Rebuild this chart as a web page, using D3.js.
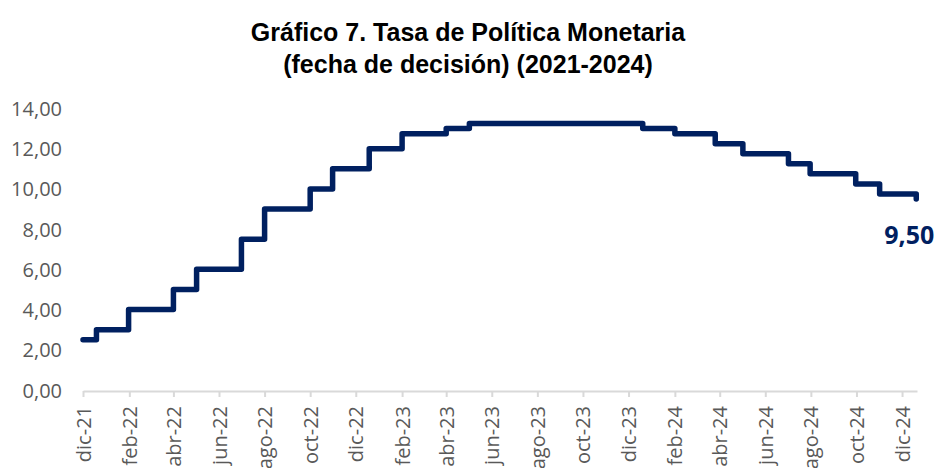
<!DOCTYPE html>
<html>
<head>
    <meta charset="utf-8">
    <style>
        body {
            margin: 0;
            background: white;
        }
        svg {
            display: block;
        }
        .title {
            font-family: 'Liberation Sans', Arial, sans-serif;
            font-weight: bold;
            font-size: 25px;
            fill: #000;
        }
        .axis text {
            font-family: 'Open Sans', sans-serif;
            font-size: 20px;
            fill: #595959;
        }
    </style>
</head>
<body>
    <svg width="936" height="468"></svg>

<script src="https://d3js.org/d3.v7.min.js"></script>
<script>
// dates where the rate changes and the rate from that date on
let rateDates = ["2021-12-01", "2021-12-19", "2022-01-31", "2022-04-01", "2022-05-02", "2022-07-01",
    "2022-08-01", "2022-10-01", "2022-10-31", "2022-12-19", "2023-02-01", "2023-04-01",
    "2023-05-02", "2023-12-20", "2024-02-01", "2024-03-26", "2024-05-02", "2024-07-02",
    "2024-07-31", "2024-09-30", "2024-11-01", "2024-12-20"]
let rateValues = [2.50, 3.00, 4.00, 5.00, 6.00, 7.50,
    9.00, 10.00, 11.00, 12.00, 12.75, 13.00,
    13.25, 13.00, 12.75, 12.25, 11.75, 11.25,
    10.75, 10.25, 9.75, 9.50]

let xTickLabels = ["dic-21", "feb-22", "abr-22", "jun-22", "ago-22", "oct-22", "dic-22",
    "feb-23", "abr-23", "jun-23", "ago-23", "oct-23", "dic-23",
    "feb-24", "abr-24", "jun-24", "ago-24", "oct-24", "dic-24"]
let yTicks = [0, 2, 4, 6, 8, 10, 12, 14]

let titleLines = ["Gráfico 7. Tasa de Política Monetaria", "(fecha de decisión) (2021-2024)"]
let lastLabel = "9,50"

let svg = d3.select("svg")
let parseDate = d3.timeParse("%Y-%m-%d")

let data = rateDates.map((d, i) => ({ date: parseDate(d), value: rateValues[i] }))

let monthsEs = ["ene", "feb", "mar", "abr", "may", "jun", "jul", "ago", "sep", "oct", "nov", "dic"]
let tickDates = xTickLabels.map(s => {
    let parts = s.split("-")
    return new Date(2000 + +parts[1], monthsEs.indexOf(parts[0]), 1)
})

let x = d3.scaleTime()
    .domain([parseDate("2021-12-01"), parseDate("2024-12-21")])
    .range([83, 917])

let y = d3.scaleLinear()
    .domain([0, 14])
    .range([390, 108.5])

let esLocale = d3.formatLocale({ decimal: ",", thousands: ".", grouping: [3], currency: ["$", ""] })
let fmt = esLocale.format(".2f")

// title
svg.append("g")
    .selectAll("text")
    .data(titleLines)
    .join("text")
    .attr("class", "title")
    .attr("x", 468)
    .attr("y", (d, i) => 41 + i * 32)
    .attr("text-anchor", "middle")
    .text(d => d)

// y axis (labels only)
let yAxis = svg.append("g")
    .attr("class", "axis")
    .attr("transform", "translate(62,0)")
    .call(d3.axisLeft(y).tickValues(yTicks).tickFormat(fmt).tickSize(0).tickPadding(0))
yAxis.select(".domain").remove()
yAxis.selectAll("text").attr("dy", "0.35em")

// x axis
let xAxis = svg.append("g")
    .attr("class", "axis")
    .attr("transform", "translate(0,391)")
    .call(d3.axisBottom(x).tickValues(tickDates).tickFormat((d, i) => xTickLabels[i]).tickSize(6).tickSizeOuter(0))
xAxis.select(".domain").attr("stroke", "#d9d9d9").attr("stroke-width", 2)
xAxis.selectAll(".tick line").attr("stroke", "#d9d9d9").attr("stroke-width", 2)
xAxis.selectAll(".tick text")
    .attr("transform", "rotate(-90)")
    .attr("text-anchor", "end")
    .attr("x", -15)
    .attr("y", 0)
    .attr("dy", "0.35em")

// step line
let line = d3.line()
    .x(d => x(d.date))
    .y(d => y(d.value))
    .curve(d3.curveStepAfter)

svg.append("path")
    .datum(data)
    .attr("d", line)
    .attr("fill", "none")
    .attr("stroke", "#002060")
    .attr("stroke-width", 5.5)
    .attr("stroke-linejoin", "round")
    .attr("stroke-linecap", "round")

// label of the last value
let last = data[data.length - 1]
svg.append("text")
    .attr("x", x(last.date) + 18)
    .attr("y", y(last.value) + 45)
    .attr("text-anchor", "end")
    .style("font-family", "'Open Sans', sans-serif")
    .style("font-weight", "bold")
    .style("font-size", "25px")
    .style("fill", "#002060")
    .text(lastLabel)
</script>
</body>
</html>
